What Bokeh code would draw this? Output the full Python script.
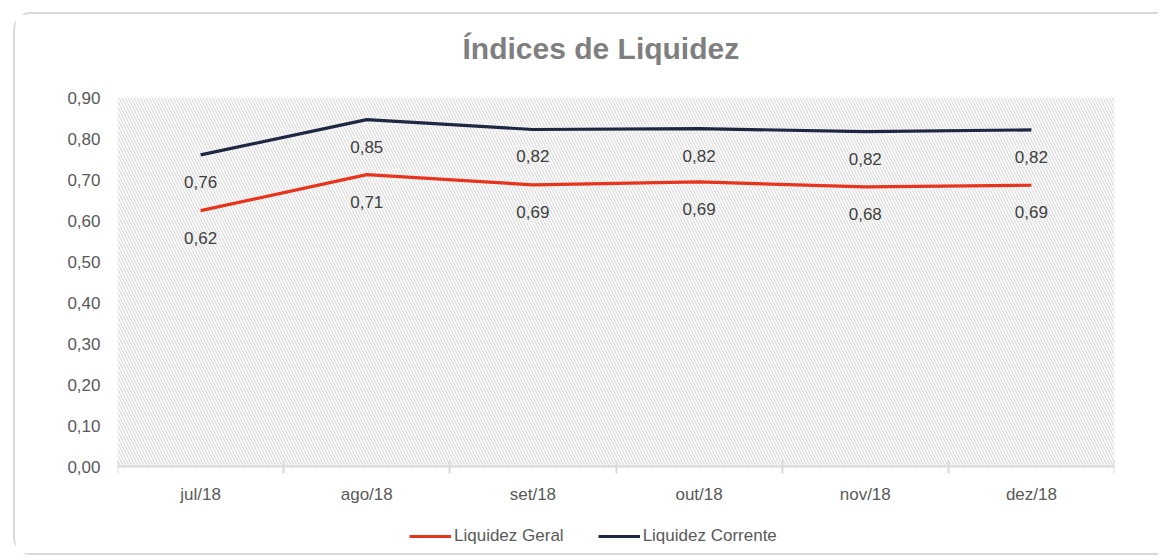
from bokeh.plotting import figure
from bokeh.models import (Range1d, FixedTicker, Legend, LegendItem, Title,
                          BoxAnnotation, LinearAxis, CustomJSTickFormatter)
from bokeh.core.properties import value
from bokeh.embed import file_html
from bokeh.resources import INLINE

months = ["jul/18", "ago/18", "set/18", "out/18", "nov/18", "dez/18"]
liquidez_geral = [0.624, 0.712, 0.687, 0.694, 0.682, 0.686]
liquidez_corrente = [0.760, 0.846, 0.822, 0.824, 0.817, 0.821]
y_ticks = [0.0, 0.1, 0.2, 0.3, 0.4, 0.5, 0.6, 0.7, 0.8, 0.9]
y_max = 0.9
title_text = "Índices de Liquidez"

FONT = "Liberation Sans"
xs = [i + 0.5 for i in range(len(months))]
bounds = [float(i) for i in range(len(months) + 1)]

def fmt(v):
    return f"{v:.2f}".replace(".", ",")

# layout (pixels): value area is 369 px tall, an extra band below zero holds axis labels + legend
AREA_H, EXTRA_H = 369, 89
y_min = -y_max * EXTRA_H / AREA_H

p = figure(width=1145, height=543, output_backend="svg", toolbar_location=None,
           x_range=Range1d(0, len(months)), y_range=Range1d(y_min, y_max),
           x_axis_type=None, y_axis_type=None,
           min_border_left=102, min_border_right=46, min_border_top=83, min_border_bottom=2)
p.margin = (12, 0, 0, 13)
p.outline_line_color = None
p.grid.visible = False
p.background_fill_color = "white"
p.border_fill_color = "white"
p.styles = {"border-top": "2px solid #d9d9d9", "border-left": "2px solid #d9d9d9",
            "border-bottom": "2px solid #d9d9d9", "border-radius": "18px 0 0 18px"}

# hatched plot area (value area only)
p.add_layout(BoxAnnotation(bottom=0, top=y_max, fill_alpha=0, line_color=None,
                           hatch_pattern="left_diagonal_line",
                           hatch_color="#dedede", hatch_scale=6, hatch_weight=1.3,
                           level="underlay"))

# title: a thin spacer next to the frame, then the title itself
p.title.text = ""
p.add_layout(Title(text=" ", text_font_size="1px", standoff=30), "above")
p.add_layout(Title(text=title_text, align="left", offset=345, standoff=0,
                   text_font=FONT, text_font_size="30px", text_font_style="bold",
                   text_color="#7f7f7f"), "above")

# axes
xaxis = LinearAxis(ticker=FixedTicker(ticks=xs, minor_ticks=bounds),
                   major_label_overrides={x: m for x, m in zip(xs, months)},
                   fixed_location=0)
xaxis.axis_line_color = "#d9d9d9"
xaxis.axis_line_width = 2
xaxis.major_tick_line_color = None
xaxis.major_tick_in = 0
xaxis.major_tick_out = 0
xaxis.minor_tick_line_color = "#d9d9d9"
xaxis.minor_tick_line_width = 2
xaxis.minor_tick_in = 6
xaxis.minor_tick_out = 7
xaxis.major_label_standoff = 11
xaxis.major_label_text_font = FONT
xaxis.major_label_text_font_size = "17px"
xaxis.major_label_text_color = "#595959"
p.add_layout(xaxis, "below")

yaxis = LinearAxis(ticker=FixedTicker(ticks=y_ticks),
                   formatter=CustomJSTickFormatter(code="return tick.toFixed(2).replace('.', ',');"))
yaxis.axis_line_color = None
yaxis.major_tick_line_color = None
yaxis.minor_tick_line_color = None
yaxis.major_tick_in = 0
yaxis.major_tick_out = 0
yaxis.major_label_standoff = 17
yaxis.major_label_text_font = FONT
yaxis.major_label_text_font_size = "17px"
yaxis.major_label_text_color = "#595959"
p.add_layout(yaxis, "left")

# lines
r1 = p.line(xs, liquidez_geral, line_color="#e8341c", line_width=3.2, line_join="round")
r2 = p.line(xs, liquidez_corrente, line_color="#1f2745", line_width=3.2, line_join="round")

# data labels
for vals in (liquidez_geral, liquidez_corrente):
    p.text(xs, vals, text=[fmt(v) for v in vals], text_align="center", text_baseline="middle",
           y_offset=27, text_font=value(FONT), text_font_size="17px", text_color="#404040")

legend = Legend(items=[LegendItem(label="Liquidez Geral", renderers=[r1]),
                       LegendItem(label="Liquidez Corrente", renderers=[r2])],
                orientation="horizontal", location=(292, 9))
legend.border_line_color = None
legend.background_fill_alpha = 0
legend.label_text_font = FONT
legend.label_text_font_size = "17px"
legend.label_text_color = "#595959"
legend.glyph_width = 42
legend.label_standoff = 3
legend.spacing = 34
legend.margin = 0
legend.padding = 6
p.add_layout(legend, "center")

open("out.html", "w").write(file_html(p, INLINE))
